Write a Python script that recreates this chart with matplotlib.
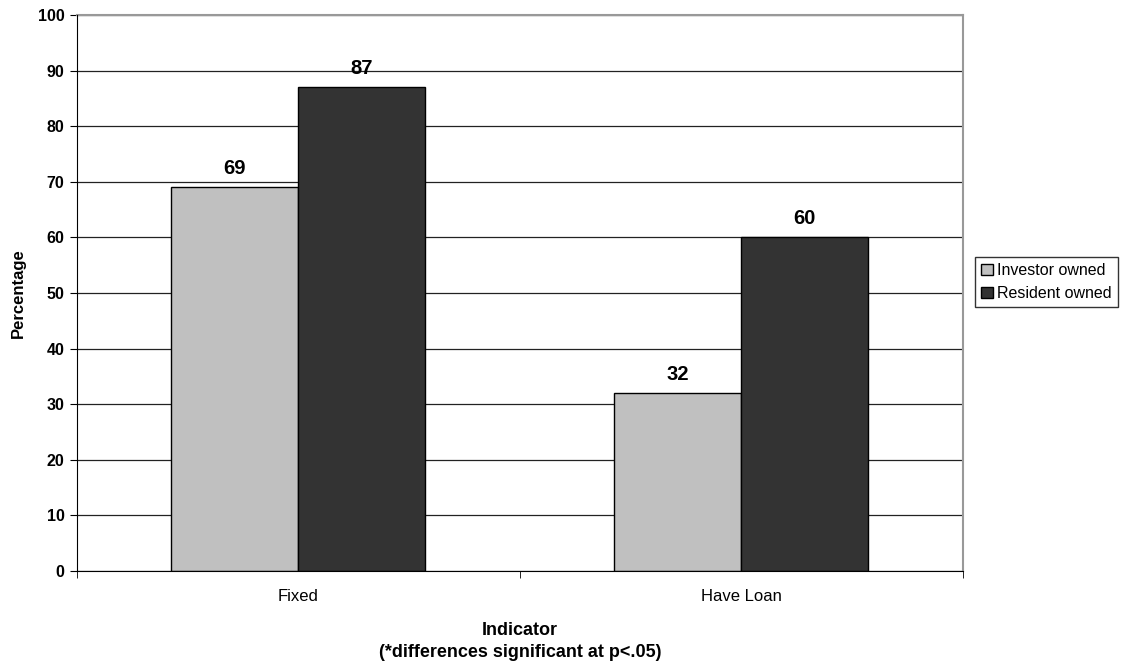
import numpy as np
import matplotlib
matplotlib.use("Agg")
import matplotlib.pyplot as plt

plt.rcParams['font.family'] = ['Liberation Sans', 'DejaVu Sans']

categories = ['Fixed', 'Have Loan']
series_names = ['Investor owned', 'Resident owned']
investor = [69, 32]
resident = [87, 60]
yticks = [0, 10, 20, 30, 40, 50, 60, 70, 80, 90, 100]

colors = ['#c0c0c0', '#333333']
bar_w = 0.287

fig = plt.figure(figsize=(11.21, 6.67), dpi=100)
ax = fig.add_axes([0.0687, 0.1439, 0.79, 0.8336])

x = np.arange(len(categories))
for i, (vals, name) in enumerate(zip([investor, resident], series_names)):
    offs = (i - 0.5) * bar_w
    bars = ax.bar(x + offs, vals, bar_w, color=colors[i], edgecolor='black',
                  linewidth=1, label=name, zorder=3)
    for b, v in zip(bars, vals):
        ax.text(b.get_x() + b.get_width() / 2, v + 2.4, str(v), ha='center',
                va='baseline', fontsize=14.5, fontweight='bold')

ax.set_xlim(-0.5, len(categories) - 0.5)
ax.set_ylim(0, 100)
ax.set_yticks(yticks)
ax.set_yticklabels([str(t) for t in yticks], fontsize=11.5, fontweight='bold')
ax.set_xticks(x)
ax.set_xticklabels(categories, fontsize=12)
ax.tick_params(axis='x', length=0, pad=13)
# category boundary ticks
ax.set_xticks(np.arange(-0.5, len(categories)), minor=True)
ax.tick_params(axis='x', which='minor', length=5, color='black')
ax.tick_params(axis='y', length=5, direction='out', pad=4)

ax.grid(axis='y', color='#222222', linewidth=0.9, zorder=0)
for side in ['top', 'right']:
    ax.spines[side].set_color('#999999')
    ax.spines[side].set_linewidth(1.5)
for side in ['left', 'bottom']:
    ax.spines[side].set_color('black')
    ax.spines[side].set_zorder(4)

ax.set_ylabel('Percentage', fontsize=12, fontweight='bold')
ax.yaxis.set_label_coords(-0.058, 0.5)
ax.set_xlabel('Indicator\n(*differences significant at p<.05)', fontsize=13,
              fontweight='bold', labelpad=13, linespacing=1.35)

leg = ax.legend(loc='center left', bbox_to_anchor=(1.014, 0.52), fontsize=11.5,
                frameon=True, fancybox=False, edgecolor='black',
                handlelength=0.7, handleheight=0.7, handletextpad=0.3,
                borderpad=0.4, labelspacing=0.5, borderaxespad=0)
leg.get_frame().set_linewidth(1)

fig.savefig('out.png', dpi=100)
